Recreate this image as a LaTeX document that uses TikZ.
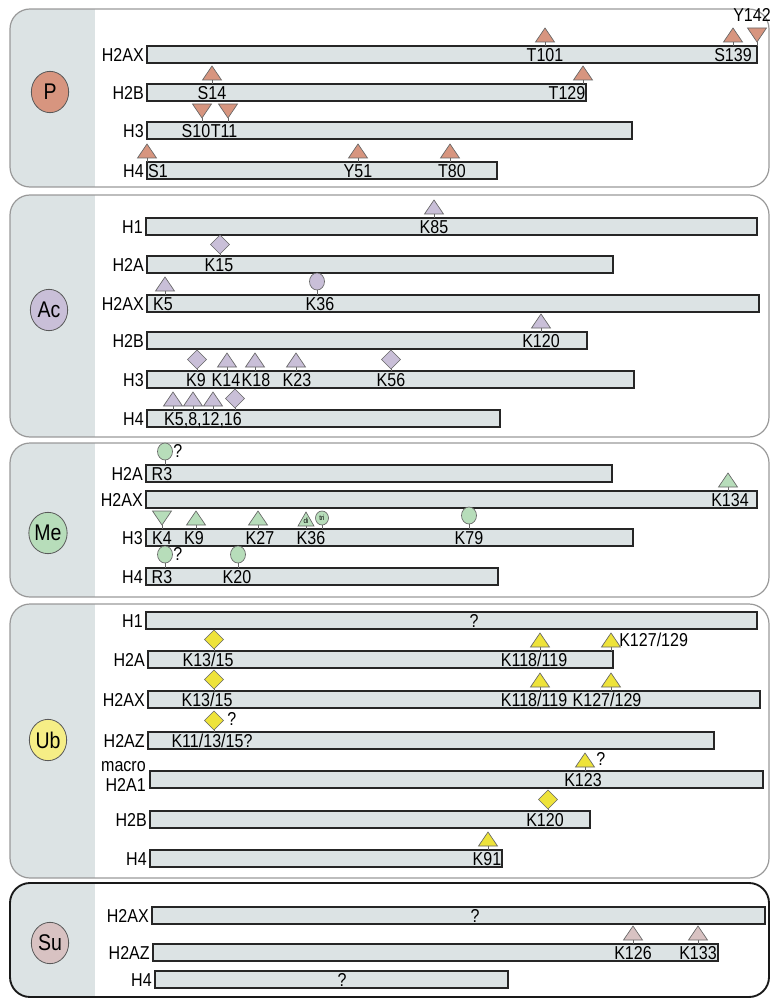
\documentclass[tikz,border=0pt]{standalone}
\usepackage{fontspec}
\setmainfont[FakeStretch=0.86]{Liberation Sans}
\usetikzlibrary{shapes.geometric}
\definecolor{stripgray}{HTML}{DCE3E4}
\definecolor{barfill}{HTML}{DCE3E4}
\definecolor{phos}{HTML}{D7957F}
\definecolor{acet}{HTML}{C9BFD8}
\definecolor{meth}{HTML}{B7DDBA}
\definecolor{ubiq}{HTML}{EEE33A}
\definecolor{ubiqlight}{HTML}{F6EE86}
\definecolor{sumo}{HTML}{D8C2C2}
\colorlet{modcol}{phos}
\tikzset{
  panel/.style   = {draw=gray!80, line width=0.9pt, rounded corners=15pt},
  hbar/.style    = {draw=black!85, line width=1.4pt, fill=barfill},
  hname/.style   = {anchor=east, inner sep=0pt, text height=10pt, text depth=0pt,
                    font=\fontsize{14}{16}\selectfont},
  site/.style    = {inner sep=0pt, text height=10pt, text depth=0pt,
                    font=\fontsize{14}{16}\selectfont},
  tinysite/.style= {inner sep=0pt, font=\fontsize{5.5}{6}\selectfont},
  modname/.style = {ellipse, draw=black!65, line width=0.6pt, minimum width=28pt,
                    minimum height=31pt, inner sep=0pt, font=\fontsize{17}{19}\selectfont},
  modmark/.style = {draw=black!60, line width=0.5pt, fill=modcol},
  stem/.style    = {draw=black!60, line width=0.5pt},
  up/.pic        = {\draw[stem] (0,0) -- (0,-4);
                    \draw[modmark] (-9.5,-4) -- (9.5,-4) -- (0,-18) -- cycle;},
  down/.pic      = {\draw[stem] (0,0) -- (0,-4);
                    \draw[modmark] (-9.5,-18) -- (9.5,-18) -- (0,-4) -- cycle;},
  dia/.pic       = {\draw[stem] (0,0) -- (0,-2);
                    \draw[modmark] (0,-2) -- (9.5,-11.5) -- (0,-21) -- (-9.5,-11.5) -- cycle;},
  ring/.pic      = {\draw[stem] (0,0) -- (0,-5);
                    \draw[modmark] (0,-13.5) ellipse (7.5 and 8.5);}
}
\newcommand{\modpanel}[3]{%
  \begin{scope}
    \clip[rounded corners=15pt] (10,#1) rectangle (769,#2);
    \fill[stripgray] (10,#1) rectangle (95,#2);
  \end{scope}
  \draw[panel,#3] (10,#1) rectangle (769,#2);}
\newcommand{\hrow}[5]{%
  \node[hname] (#1) at (#4-3,#3+8.5) {#2};
  \draw[hbar] (#4,#3) rectangle (#5,#3+17);}
\newcommand{\sites}[2]{%
  \foreach \x/\m/\s/\lx in {#2}{
    \pic at (\x,#1) {\m};
    \node[site] (s#1-\x) at (\lx,#1+8.5) {\s};
  }}

\begin{document}
\begin{tikzpicture}[x=0.75pt,y=-0.75pt]
  \useasboundingbox (0,0) rectangle (771,998);

  \begin{scope}
    \colorlet{modcol}{phos}
    \modpanel{9}{187}{}
    \node[modname,fill=phos] (modP) at (50,92) {P};
    \hrow{pH2AX}{H2AX}{46}{147}{757}
    \sites{46}{545/up/T101/545, 733/up/S139/733}
    \pic at (757,46) {down};
    \node[site,anchor=east] (sY142) at (771,15) {Y142};
    \hrow{pH2B}{H2B}{84}{147}{586}
    \sites{84}{212/up/S14/212, 583/up/T129/567}
    \hrow{pH3}{H3}{122}{147}{632}
    \sites{122}{202/down/S10/196, 228/down/T11/224}
    \hrow{pH4}{H4}{162}{147}{497}
    \sites{162}{147/up/S1/158, 358/up/Y51/358, 450/up/T80/452}
  \end{scope}

  \begin{scope}
    \colorlet{modcol}{acet}
    \modpanel{195}{437}{}
    \node[modname,fill=acet] (modAc) at (49,310) {Ac};
    \hrow{aH1}{H1}{218}{146}{757}
    \sites{218}{434/up/K85/434}
    \hrow{aH2A}{H2A}{256}{147}{613}
    \sites{256}{220/dia/K15/219}
    \hrow{aH2AX}{H2AX}{295}{147}{759}
    \sites{295}{165/up/K5/163, 317/ring/K36/320}
    \hrow{aH2B}{H2B}{332}{147}{587}
    \sites{332}{541/up/K120/541}
    \hrow{aH3}{H3}{371}{147}{634}
    \sites{371}{197/dia/K9/196, 227/up/K14/226, 255/up/K18/256, 296/up/K23/297, 391/dia/K56/391}
    \hrow{aH4}{H4}{410}{147}{500}
    \foreach \x/\m in {173/up, 193/up, 213/up, 235/dia} {\pic at (\x,410) {\m};}
    \node[site] (sK5-16) at (203,418.5) {K5,8,12,16};
  \end{scope}

  \begin{scope}
    \colorlet{modcol}{meth}
    \modpanel{443}{597}{}
    \node[modname,fill=meth] (modMe) at (48,533) {Me};
    \hrow{mH2A}{H2A}{465}{146}{612}
    \sites{465}{165/ring/R3/162}
    \node[site,anchor=west] (qR3a) at (173,451) {?};
    \hrow{mH2AX}{H2AX}{491}{146}{757}
    \sites{491}{728/up/K134/730}
    \hrow{mH3}{H3}{529}{146}{633}
    \sites{529}{162/down/K4/162, 196/up/K9/194, 258/up/K27/260, 469/ring/K79/469}
    \draw[stem] (306,529) -- (306,526);
    \draw[modmark] (298,526) -- (314,526) -- (306,512) -- cycle;
    \node[tinysite] (sDi) at (306,521) {di};
    \draw[stem] (322,529) -- (322,525);
    \draw[modmark] (322,518) ellipse (6.5 and 7);
    \node[tinysite] (sTri) at (322,518) {tri};
    \node[site] (sK36m) at (311,537.5) {K36};
    \hrow{mH4}{H4}{568}{146}{498}
    \sites{568}{165/ring/R3/162, 238/ring/K20/237}
    \node[site,anchor=west] (qR3b) at (173,554) {?};
  \end{scope}

  \begin{scope}
    \colorlet{modcol}{ubiq}
    \modpanel{604}{878}{}
    \node[modname,fill=ubiqlight] (modUb) at (48,740) {Ub};
    \hrow{uH1}{H1}{612}{146}{757}
    \node[site] (qH1) at (474,620.5) {?};
    \hrow{uH2A}{H2A}{651}{148}{613}
    \sites{651}{214/dia/{K13/15}/208, 540/up/{K118/119}/534}
    \pic at (611,651) {up};
    \node[site,anchor=west] (sK127a) at (619,640) {K127/129};
    \hrow{uH2AX}{H2AX}{691}{148}{760}
    \sites{691}{214/dia/{K13/15}/207, 540/up/{K118/119}/534, 611/up/{K127/129}/607}
    \hrow{uH2AZ}{H2AZ}{732}{148}{714}
    \sites{732}{214/dia/{K11/13/15?}/212}
    \node[site,anchor=west] (qK11) at (227,719) {?};
    \node[hname] (uMacro) at (146,765) {macro};
    \node[hname] (uH2A1) at (146,785) {H2A1};
    \draw[hbar] (150,771) rectangle (763,788);
    \sites{771}{585/up/K123/583}
    \node[site,anchor=west] (qK123) at (596,759) {?};
    \hrow{uH2B}{H2B}{811}{150}{590}
    \sites{811}{548/dia/K120/545}
    \hrow{uH4}{H4}{850}{150}{502}
    \sites{850}{488/up/K91/487}
  \end{scope}

  \begin{scope}
    \colorlet{modcol}{sumo}
    \modpanel{883}{997}{draw=black!90, line width=1.4pt}
    \node[modname,fill=sumo] (modSu) at (50,943) {Su};
    \hrow{sH2AX}{H2AX}{907}{152}{765}
    \node[site] (qSH2AX) at (475,915.5) {?};
    \hrow{sH2AZ}{H2AZ}{944}{153}{718}
    \sites{944}{633/up/K126/633, 698/up/K133/698}
    \hrow{sH4}{H4}{971}{155}{508}
    \node[site] (qSH4) at (342,979.5) {?};
  \end{scope}
\end{tikzpicture}
\end{document}
